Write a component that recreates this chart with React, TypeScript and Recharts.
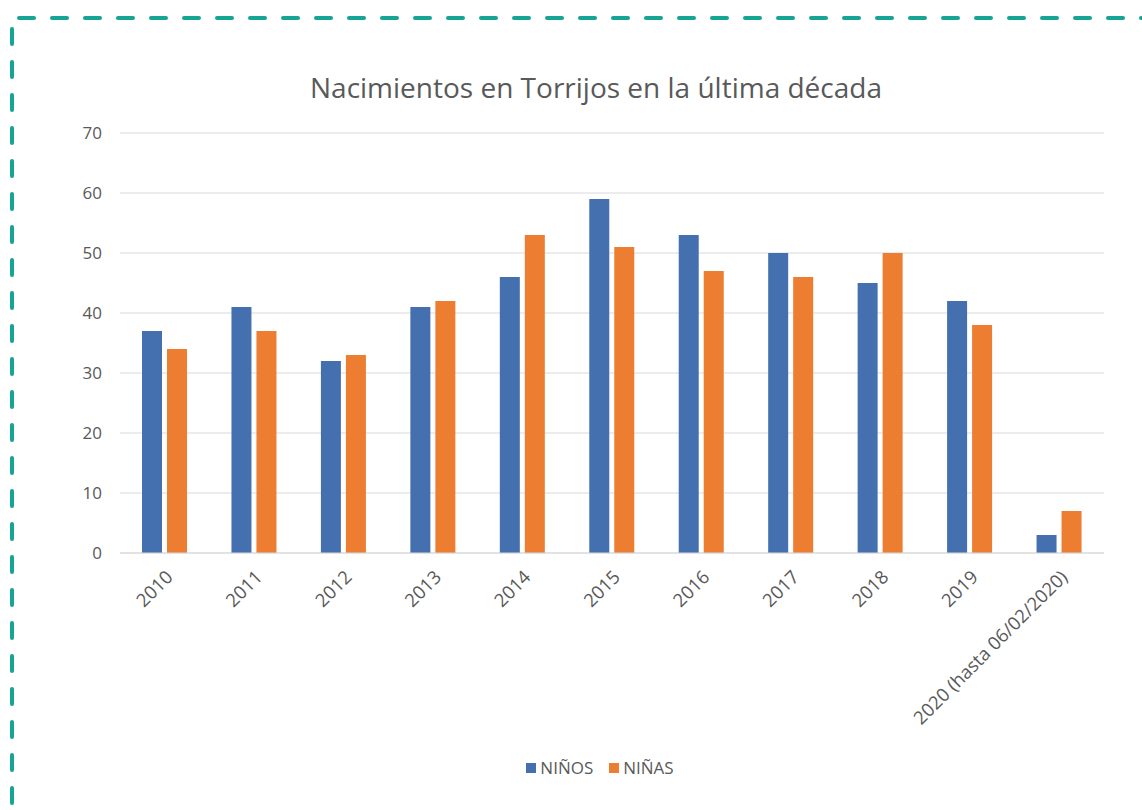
import { BarChart, Bar, XAxis, YAxis, CartesianGrid, Legend } from 'recharts';

const years = ['2010', '2011', '2012', '2013', '2014', '2015', '2016', '2017', '2018', '2019', '2020 (hasta 06/02/2020)'];
const ninos = [37, 41, 32, 41, 46, 59, 53, 50, 45, 42, 3];
const ninas = [34, 37, 33, 42, 53, 51, 47, 46, 50, 38, 7];
const yTicks = [0, 10, 20, 30, 40, 50, 60, 70];

const data = years.map((year, i) => ({ year, ninos: ninos[i], ninas: ninas[i] }));

const FONT = '"Open Sans", "Liberation Sans", sans-serif';
const TEXT = '#595959';

const XTick = ({ x, y, payload }: any) => (
  <text
    x={x + 4}
    y={y + 12}
    textAnchor="end"
    fill={TEXT}
    fontSize={18.5}
    fontFamily={FONT}
    transform={`rotate(-45, ${x + 4}, ${y + 12})`}
    dominantBaseline="central"
  >
    {payload.value}
  </text>
);

const LegendContent = () => (
  <div style={{ display: 'flex', justifyContent: 'center', gap: 16, fontFamily: FONT, fontSize: 17, color: TEXT }}>
    {[
      { label: 'NIÑOS', color: '#4570b0' },
      { label: 'NIÑAS', color: '#ed7d31' },
    ].map((it) => (
      <div key={it.label} style={{ display: 'flex', alignItems: 'center', gap: 4 }}>
        <span style={{ width: 10, height: 10, background: it.color, display: 'inline-block' }} />
        <span>{it.label}</span>
      </div>
    ))}
  </div>
);

export default function App() {
  return (
    <div style={{ position: 'absolute', left: 0, top: 0, width: 1142, height: 810, background: '#fff' }}>
      <svg width={1142} height={810} style={{ position: 'absolute', left: 0, top: 0 }}>
        <line x1={19} y1={18} x2={1142} y2={18} stroke="#16a594" strokeWidth={4} strokeDasharray="15 18" strokeLinecap="round" />
        <line x1={12} y1={29} x2={12} y2={810} stroke="#16a594" strokeWidth={4} strokeDasharray="15 18" strokeLinecap="round" />
      </svg>
      <div
        style={{
          position: 'absolute',
          top: 68,
          left: 0,
          width: 1192,
          textAlign: 'center',
          fontFamily: FONT,
          fontSize: 28,
          color: TEXT,
        }}
      >
        Nacimientos en Torrijos en la última década
      </div>
      <div style={{ position: 'absolute', left: 0, top: 0 }}>
        <BarChart
          width={1142}
          height={810}
          data={data}
          margin={{ top: 133, right: 38, left: 60, bottom: 34 }}
          barSize={20}
          barGap={5}
        >
          <CartesianGrid vertical={false} stroke="#d9d9d9" />
          <XAxis
            dataKey="year"
            interval={0}
            height={200}
            tick={<XTick />}
            tickLine={false}
            axisLine={{ stroke: '#d9d9d9' }}
          />
          <YAxis
            width={60}
            domain={[0, 70]}
            ticks={yTicks}
            axisLine={false}
            tickLine={false}
            tickSize={0}
            tickMargin={18}
            tick={{ fill: TEXT, fontSize: 17, fontFamily: FONT }}
          />
          <Legend content={<LegendContent />} wrapperStyle={{ top: 756, left: 0, width: 1200 }} />
          <Bar dataKey="ninos" name="NIÑOS" fill="#4570b0" isAnimationActive={false} />
          <Bar dataKey="ninas" name="NIÑAS" fill="#ed7d31" isAnimationActive={false} />
        </BarChart>
      </div>
    </div>
  );
}
